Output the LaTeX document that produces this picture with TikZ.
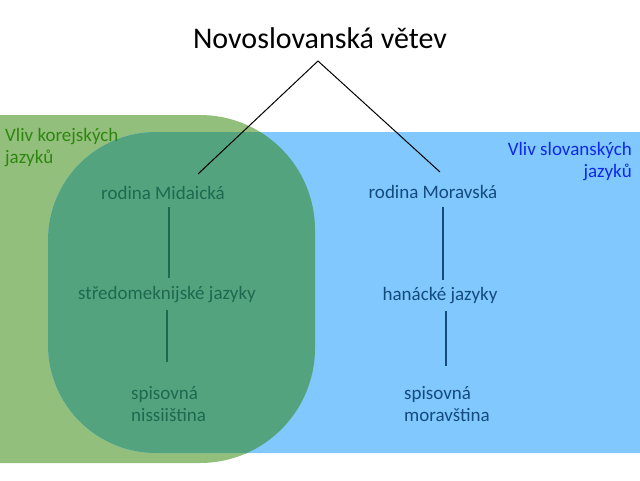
\documentclass[tikz,border=0pt]{standalone}
\usepackage{fontspec}
\setmainfont{Carlito}
\begin{document}
\begin{tikzpicture}[x=1pt,y=-1pt,
  lbl/.style={inner sep=0pt,font=\fontsize{19}{22}\selectfont},
  grtext/.style={lbl,text=tealdark},
  bltext/.style={lbl,text=bluedark},
  grline/.style={draw=tealdark,line width=1.1pt},
  blline/.style={draw=bluedark,line width=1.1pt},
  blackline/.style={draw=black,line width=1pt}]
\definecolor{lightgreen}{RGB}{147,191,124}
\definecolor{lightblue}{RGB}{128,200,254}
\definecolor{overlap}{RGB}{82,163,126}
\definecolor{tealdark}{RGB}{30,105,80}
\definecolor{bluedark}{RGB}{20,75,125}
\definecolor{greentext}{RGB}{45,135,15}
\definecolor{bluetext}{RGB}{15,40,235}
\useasboundingbox (0,0) rectangle (640,480);
\fill[white] (0,0) rectangle (640,480);
% regions
\fill[lightgreen,rounded corners=115pt] (-200,115) rectangle (315,463);
\fill[lightblue,rounded corners=108pt] (48,132) rectangle (900,453);
\begin{scope}
  \clip[rounded corners=115pt] (-200,115) rectangle (315,463);
  \fill[overlap,rounded corners=108pt] (48,132) rectangle (900,453);
\end{scope}
% region labels
\node[lbl,text=greentext,anchor=west,align=left] (kor) at (5,148) {Vliv korejských\\jazyků};
\node[lbl,text=bluetext,anchor=east,align=right] (slo) at (632,162) {Vliv slovanských\\jazyků};
% title
\node[inner sep=0pt,font=\fontsize{30}{32}\selectfont] (title) at (320,38) {Novoslovanská větev};
% left branch
\node[grtext] (mid) at (163,193) {rodina Midaická};
\node[grtext] (str) at (167,295) {středomeknijské jazyky};
\node[grtext,align=left,anchor=west] (nis) at (131,404) {spisovná\\nissiiština};
% right branch
\node[bltext] (mor) at (433,192) {rodina Moravská};
\node[bltext] (han) at (440,296) {hanácké jazyky};
\node[bltext,align=left,anchor=west] (mst) at (404,404) {spisovná\\moravština};
% connector ends
\coordinate (apex) at (318,61);
\coordinate (midtop) at (198,174);
\coordinate (mortop) at (440,172);
\draw[blackline] (midtop) -- (apex) -- (mortop);
\draw[grline] (169,207) coordinate (a1) -- (169,278) coordinate (a2);
\draw[grline] (167,310) coordinate (a3) -- (167,362) coordinate (a4);
\draw[blline] (443,207) coordinate (b1) -- (443,280) coordinate (b2);
\draw[blline] (446,311) coordinate (b3) -- (446,366) coordinate (b4);
\end{tikzpicture}
\end{document}
